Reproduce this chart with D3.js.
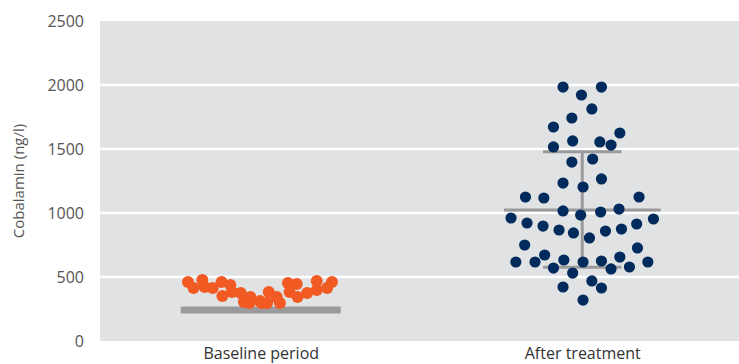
<!DOCTYPE html>
<html>
<head>
<meta charset="utf-8">
<script src="https://cdn.jsdelivr.net/npm/d3@7"></script>
<style>
  html, body { margin: 0; padding: 0; background: #ffffff; }
  svg { display: block; }
  text { font-family: "Open Sans", "Noto Sans", sans-serif; }
</style>
</head>
<body>
<svg id="chart" width="739" height="364"></svg>
<script>
// Cobalamin levels (ng/l) per patient, before and after treatment
const categories = ["Baseline period", "After treatment"];
const yTicks = [0, 500, 1000, 1500, 2000, 2500];

const baselineValues = [461, 414, 477, 422, 414, 461, 352, 438, 383, 375, 305, 344, 297, 313,
  297, 383, 297, 344, 297, 453, 383, 445, 344, 375, 469, 398, 414, 461];
// horizontal swarm offset of each point, in units of half the group width
const baselineJitter = [-0.91, -0.84, -0.73, -0.70, -0.60, -0.49, -0.48, -0.38, -0.36, -0.25, -0.21,
  -0.13, -0.14, -0.01, 0.01, 0.10, 0.08, 0.20, 0.24, 0.34, 0.36, 0.45, 0.46, 0.58, 0.70, 0.70, 0.83, 0.89];

const afterValues = [1984, 1984, 1922, 1813, 1742, 1672, 1625, 1563, 1555, 1531, 1516, 1398, 1422,
  1234, 1203, 1266, 1125, 1117, 1125, 1016, 984, 1008, 1031, 961, 922, 898, 953, 914, 875, 859, 867,
  844, 805, 750, 727, 617, 617, 672, 633, 617, 625, 656, 617, 570, 531, 563, 578, 422, 469, 414, 320];
const afterJitter = [-0.24, 0.24, -0.01, 0.12, -0.13, -0.36, 0.47, -0.12, 0.22, 0.36, -0.36, -0.13, 0.13,
  -0.24, 0.01, 0.24, -0.71, -0.48, 0.71, -0.24, -0.02, 0.23, 0.46, -0.89, -0.69, -0.49, 0.89, 0.68, 0.49,
  0.29, -0.29, -0.11, 0.09, -0.72, 0.69, -0.83, -0.59, -0.47, -0.23, 0.01, 0.24, 0.47, 0.82, -0.36, -0.12,
  0.36, 0.59, -0.24, 0.12, 0.24, 0.01];

// summary marks
const baselineReference = 242;
const afterCentre = 1023;
const afterUpper = 1479;
const afterLower = 576;

const svg = d3.select("#chart");
const plot = { left: 100, right: 743, top: 21, bottom: 341 };

const x = d3.scalePoint().domain(categories).range([plot.left, plot.right]).padding(0.5);
const y = d3.scaleLinear().domain([0, 2500]).range([plot.bottom, plot.top]);
const jitter = d3.scaleLinear().domain([-1, 1]).range([-80, 80]);

// plot background
svg.append("rect")
  .attr("x", plot.left).attr("y", plot.top)
  .attr("width", plot.right - plot.left).attr("height", plot.bottom - plot.top)
  .attr("fill", "#e1e2e4");

// gridlines
svg.append("g").selectAll("line")
  .data(yTicks.filter(t => t > 0 && t < 2500))
  .join("line")
  .attr("x1", plot.left).attr("x2", plot.right)
  .attr("y1", d => y(d)).attr("y2", d => y(d))
  .attr("stroke", "#ffffff").attr("stroke-width", 2.5);

// y axis labels
const yAxis = d3.axisLeft(y).tickValues(yTicks).tickFormat(d3.format("d")).tickSize(0).tickPadding(16);
const gy = svg.append("g").attr("transform", `translate(${plot.left},0)`).call(yAxis);
gy.select(".domain").remove();
gy.selectAll("text").attr("font-size", 16).attr("fill", "#555555")
  .style("font-family", "'Open Sans', sans-serif");

// x axis labels
const xAxis = d3.axisBottom(x).tickSize(0).tickPadding(7);
const gx = svg.append("g").attr("transform", `translate(0,${plot.bottom})`).call(xAxis);
gx.select(".domain").remove();
gx.selectAll("text").attr("font-size", 16).attr("fill", "#333333")
  .style("font-family", "'Open Sans', sans-serif");

// axis title
svg.append("text")
  .attr("transform", `translate(24,${(plot.top + plot.bottom) / 2}) rotate(-90)`)
  .attr("text-anchor", "middle")
  .attr("font-size", 15).attr("fill", "#555555")
  .text("Cobalamin (ng/l)");

// baseline reference bar
const cxB = x(categories[0]);
svg.append("line")
  .attr("x1", cxB + jitter(-1)).attr("x2", cxB + jitter(1))
  .attr("y1", y(baselineReference)).attr("y2", y(baselineReference))
  .attr("stroke", "#9a9a9c").attr("stroke-width", 7);

// after-treatment centre line and spread bars
const cxA = x(categories[1]);
const spread = svg.append("g").attr("stroke", "#9a9a9c").attr("stroke-width", 3);
spread.append("line")
  .attr("x1", cxA).attr("x2", cxA)
  .attr("y1", y(afterUpper)).attr("y2", y(afterLower));
spread.append("line")
  .attr("x1", cxA + jitter(-0.98)).attr("x2", cxA + jitter(0.98))
  .attr("y1", y(afterCentre)).attr("y2", y(afterCentre));
[afterUpper, afterLower].forEach(v => {
  spread.append("line")
    .attr("x1", cxA + jitter(-0.49)).attr("x2", cxA + jitter(0.49))
    .attr("y1", y(v)).attr("y2", y(v));
});

// points
svg.append("g").selectAll("circle")
  .data(baselineValues.map((v, i) => ({ v, j: baselineJitter[i] })))
  .join("circle")
  .attr("cx", d => cxB + jitter(d.j))
  .attr("cy", d => y(d.v))
  .attr("r", 6)
  .attr("fill", "#f15a22");

svg.append("g").selectAll("circle")
  .data(afterValues.map((v, i) => ({ v, j: afterJitter[i] })))
  .join("circle")
  .attr("cx", d => cxA + jitter(d.j))
  .attr("cy", d => y(d.v))
  .attr("r", 5.6)
  .attr("fill", "#002b5c");
</script>
</body>
</html>
